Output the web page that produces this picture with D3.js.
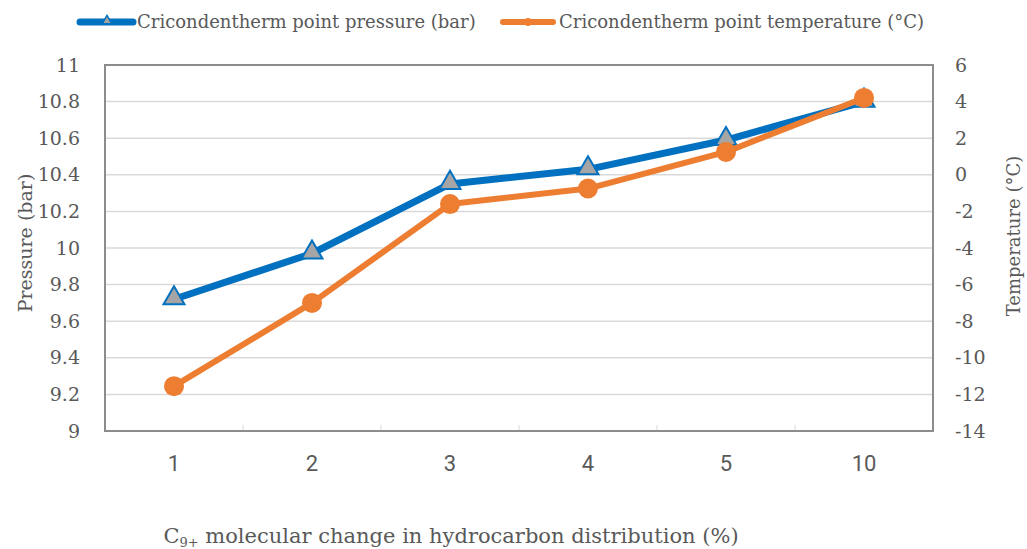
<!DOCTYPE html>
<html>
<head>
<meta charset="utf-8">
<script src="https://cdn.jsdelivr.net/npm/d3@7"></script>
<style>
  body { margin: 0; background: #fff; }
  text { fill: #595959; }
  .serif { font-family: "DejaVu Serif", "Liberation Serif", serif; }
  .narrow { font-family: "Roboto", "Liberation Sans", sans-serif; }
</style>
</head>
<body>
<div id="chart"></div>
<script>
// data
var categories = ["1", "2", "3", "4", "5", "10"];
var pressure = [9.72, 9.97, 10.35, 10.43, 10.59, 10.80];
var temperature = [-11.55, -7.0, -1.6, -0.75, 1.25, 4.2];
var pressureTicks = [9, 9.2, 9.4, 9.6, 9.8, 10, 10.2, 10.4, 10.6, 10.8, 11];
var tempTicks = [-14, -12, -10, -8, -6, -4, -2, 0, 2, 4, 6];

var svgWidth = 1027;
var svgHeight = 549;
var margin = {top: 65, right: 94, bottom: 118, left: 105};
var width = svgWidth - margin.left - margin.right;
var height = svgHeight - margin.top - margin.bottom;

var blue = "#0070c0";
var orange = "#ed7d31";

var svg = d3.select("#chart").append("svg")
    .attr("width", svgWidth)
    .attr("height", svgHeight);

var chartGroup = svg.append("g")
    .attr("transform", `translate(${margin.left}, ${margin.top})`);

var xScale = d3.scaleBand().domain(categories).range([0, width]).padding(0);
var yLeft = d3.scaleLinear().domain([9, 11]).range([height, 0]);
var yRight = d3.scaleLinear().domain([-14, 6]).range([height, 0]);

// gridlines
chartGroup.append("g")
    .selectAll("line")
    .data(pressureTicks)
    .enter().append("line")
    .attr("x1", 0).attr("x2", width)
    .attr("y1", d => yLeft(d)).attr("y2", d => yLeft(d))
    .attr("stroke", "#d9d9d9")
    .attr("stroke-width", 1.5);

// x tick marks at band edges
chartGroup.append("g")
    .selectAll("line")
    .data(categories.slice(1))
    .enter().append("line")
    .attr("x1", d => xScale(d)).attr("x2", d => xScale(d))
    .attr("y1", height - 6).attr("y2", height)
    .attr("stroke", "#d9d9d9");

// frame
chartGroup.append("rect")
    .attr("x", 0).attr("y", 0)
    .attr("width", width).attr("height", height)
    .attr("fill", "none")
    .attr("stroke", "#8c8c8c")
    .attr("stroke-width", 2);

// axes labels (text only)
var leftAxis = d3.axisLeft(yLeft).tickValues(pressureTicks).tickSize(0).tickPadding(25)
    .tickFormat(d => String(+d.toFixed(1)));
var lg = chartGroup.append("g").call(leftAxis);
lg.select(".domain").remove();
lg.selectAll("text").attr("class", "serif").style("font-size", "19px").attr("fill", "#595959");

var rightAxis = d3.axisRight(yRight).tickValues(tempTicks).tickSize(0).tickPadding(22)
    .tickFormat(d => String(d));
var rg = chartGroup.append("g").attr("transform", `translate(${width},0)`).call(rightAxis);
rg.select(".domain").remove();
rg.selectAll("text").attr("class", "serif").style("font-size", "19px").attr("fill", "#595959");

var bottomAxis = d3.axisBottom(xScale).tickSize(0).tickPadding(24);
var bg = chartGroup.append("g").attr("transform", `translate(0,${height})`).call(bottomAxis);
bg.select(".domain").remove();
bg.selectAll("text").attr("class", "narrow").style("font-size", "22px").attr("fill", "#595959");

var xc = d => xScale(d) + xScale.bandwidth() / 2;

var pData = categories.map((c, i) => ({c: c, v: pressure[i]}));
var tData = categories.map((c, i) => ({c: c, v: temperature[i]}));

// pressure line
chartGroup.append("path")
    .datum(pData)
    .attr("fill", "none")
    .attr("stroke", blue)
    .attr("stroke-width", 7)
    .attr("stroke-linejoin", "round")
    .attr("d", d3.line().x(d => xc(d.c)).y(d => yLeft(d.v)));

var tri = d3.symbol().type(d3.symbolTriangle).size(190);
chartGroup.selectAll(".ptri")
    .data(pData)
    .enter().append("path")
    .attr("class", "ptri")
    .attr("transform", d => `translate(${xc(d.c)},${yLeft(d.v) - 1})`)
    .attr("d", tri)
    .attr("fill", "#a5a5a5")
    .attr("stroke", blue)
    .attr("stroke-width", 2);

// temperature line
chartGroup.append("path")
    .datum(tData)
    .attr("fill", "none")
    .attr("stroke", orange)
    .attr("stroke-width", 6)
    .attr("stroke-linejoin", "round")
    .attr("d", d3.line().x(d => xc(d.c)).y(d => yRight(d.v)));

chartGroup.selectAll(".tdot")
    .data(tData)
    .enter().append("circle")
    .attr("class", "tdot")
    .attr("cx", d => xc(d.c))
    .attr("cy", d => yRight(d.v))
    .attr("r", 10)
    .attr("fill", orange);

// axis titles
svg.append("text")
    .attr("class", "serif")
    .attr("transform", "translate(32, 243) rotate(-90)")
    .attr("text-anchor", "middle")
    .style("font-size", "19px")
    .text("Pressure (bar)");

svg.append("text")
    .attr("class", "serif")
    .attr("transform", "translate(1020, 236) rotate(-90)")
    .attr("text-anchor", "middle")
    .style("font-size", "18px")
    .text("Temperature (°C)");

var xt = svg.append("text")
    .attr("class", "serif")
    .attr("x", 451).attr("y", 543)
    .attr("text-anchor", "middle")
    .style("font-size", "21px");
xt.append("tspan").text("C");
xt.append("tspan").attr("dy", 4).style("font-size", "13px").text("9+");
xt.append("tspan").attr("dy", -4).text(" molecular change in hydrocarbon distribution (%)");

// legend
var legend = svg.append("g");
legend.append("line")
    .attr("x1", 80).attr("x2", 133).attr("y1", 22).attr("y2", 22)
    .attr("stroke", blue).attr("stroke-width", 7).attr("stroke-linecap", "round");
legend.append("path")
    .attr("transform", "translate(107,21)")
    .attr("d", d3.symbol().type(d3.symbolTriangle).size(40))
    .attr("fill", "#a5a5a5").attr("stroke", blue).attr("stroke-width", 1.5);
legend.append("text")
    .attr("class", "serif")
    .attr("x", 137).attr("y", 28)
    .style("font-size", "18px")
    .text("Cricondentherm point pressure (bar)");

legend.append("line")
    .attr("x1", 503).attr("x2", 553).attr("y1", 22).attr("y2", 22)
    .attr("stroke", orange).attr("stroke-width", 6).attr("stroke-linecap", "round");
legend.append("circle")
    .attr("cx", 528).attr("cy", 22).attr("r", 4)
    .attr("fill", orange);
legend.append("text")
    .attr("class", "serif")
    .attr("x", 559).attr("y", 28)
    .style("font-size", "18px")
    .text("Cricondentherm point temperature (°C)");
</script>
</body>
</html>
